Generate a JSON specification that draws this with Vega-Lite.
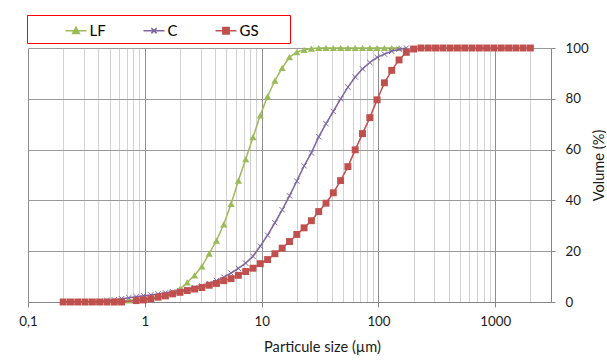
{
  "$schema": "https://vega.github.io/schema/vega-lite/v6.json",
  "autosize": {"type": "none"},
  "padding": {"left": 28, "top": 48, "right": 56, "bottom": 59},
  "width": 523,
  "height": 254,
  "background": "white",
  "datasets": {
    "psd": [
      {"s":"LF","d":0.2,"v":0},{"s":"LF","d":0.231,"v":0},{"s":"LF","d":0.2667,"v":0},{"s":"LF","d":0.308,"v":0},{"s":"LF","d":0.3557,"v":0},{"s":"LF","d":0.4107,"v":0.1},{"s":"LF","d":0.4743,"v":0.2},{"s":"LF","d":0.5477,"v":0.3},{"s":"LF","d":0.6325,"v":0.5},{"s":"LF","d":0.7303,"v":0.6},{"s":"LF","d":0.8434,"v":0.8},{"s":"LF","d":0.9739,"v":1.1},{"s":"LF","d":1.125,"v":1.5},{"s":"LF","d":1.299,"v":2.0},{"s":"LF","d":1.5,"v":2.7},{"s":"LF","d":1.732,"v":3.6},{"s":"LF","d":2,"v":5.2},{"s":"LF","d":2.31,"v":7.7},{"s":"LF","d":2.667,"v":10.5},{"s":"LF","d":3.08,"v":14.0},{"s":"LF","d":3.557,"v":19.0},{"s":"LF","d":4.107,"v":24.2},{"s":"LF","d":4.743,"v":30.6},{"s":"LF","d":5.477,"v":38.6},{"s":"LF","d":6.325,"v":47.8},{"s":"LF","d":7.303,"v":56.2},{"s":"LF","d":8.434,"v":64.9},{"s":"LF","d":9.739,"v":73.5},{"s":"LF","d":11.25,"v":81.0},{"s":"LF","d":12.99,"v":87.2},{"s":"LF","d":15,"v":92.2},{"s":"LF","d":17.32,"v":96.4},{"s":"LF","d":20,"v":98.4},{"s":"LF","d":23.1,"v":99.3},{"s":"LF","d":26.67,"v":99.8},{"s":"LF","d":30.8,"v":100},{"s":"LF","d":35.57,"v":100},{"s":"LF","d":41.07,"v":100},{"s":"LF","d":47.43,"v":100},{"s":"LF","d":54.77,"v":100},{"s":"LF","d":63.25,"v":100},{"s":"LF","d":73.03,"v":100},{"s":"LF","d":84.34,"v":100},{"s":"LF","d":97.39,"v":100},{"s":"LF","d":112.5,"v":100},{"s":"LF","d":129.9,"v":100},{"s":"LF","d":150,"v":100},
      {"s":"C","d":0.2,"v":0},{"s":"C","d":0.231,"v":0},{"s":"C","d":0.2667,"v":0.05},{"s":"C","d":0.308,"v":0.1},{"s":"C","d":0.3557,"v":0.2},{"s":"C","d":0.4107,"v":0.35},{"s":"C","d":0.4743,"v":0.6},{"s":"C","d":0.5477,"v":0.9},{"s":"C","d":0.6325,"v":1.3},{"s":"C","d":0.7303,"v":1.7},{"s":"C","d":0.8434,"v":2.1},{"s":"C","d":0.9739,"v":2.5},{"s":"C","d":1.125,"v":2.8},{"s":"C","d":1.299,"v":3.2},{"s":"C","d":1.5,"v":3.6},{"s":"C","d":1.732,"v":4.0},{"s":"C","d":2,"v":4.4},{"s":"C","d":2.31,"v":5.0},{"s":"C","d":2.667,"v":5.6},{"s":"C","d":3.08,"v":6.4},{"s":"C","d":3.557,"v":7.3},{"s":"C","d":4.107,"v":8.4},{"s":"C","d":4.743,"v":9.8},{"s":"C","d":5.477,"v":11.4},{"s":"C","d":6.325,"v":13.2},{"s":"C","d":7.303,"v":15.3},{"s":"C","d":8.434,"v":18.0},{"s":"C","d":9.739,"v":22.0},{"s":"C","d":11.25,"v":26.3},{"s":"C","d":12.99,"v":31.2},{"s":"C","d":15,"v":36.3},{"s":"C","d":17.32,"v":41.8},{"s":"C","d":20,"v":47.6},{"s":"C","d":23.1,"v":53.6},{"s":"C","d":26.67,"v":58.7},{"s":"C","d":30.8,"v":65.0},{"s":"C","d":35.57,"v":70.2},{"s":"C","d":41.07,"v":75.0},{"s":"C","d":47.43,"v":80.0},{"s":"C","d":54.77,"v":84.6},{"s":"C","d":63.25,"v":88.6},{"s":"C","d":73.03,"v":91.8},{"s":"C","d":84.34,"v":94.3},{"s":"C","d":97.39,"v":96.3},{"s":"C","d":112.5,"v":97.6},{"s":"C","d":129.9,"v":98.7},{"s":"C","d":150,"v":99.5},{"s":"C","d":173.2,"v":100},
      {"s":"GS","d":0.2,"v":0},{"s":"GS","d":0.231,"v":0},{"s":"GS","d":0.2667,"v":0},{"s":"GS","d":0.308,"v":0},{"s":"GS","d":0.3557,"v":0},{"s":"GS","d":0.4107,"v":0},{"s":"GS","d":0.4743,"v":0},{"s":"GS","d":0.5477,"v":0},{"s":"GS","d":0.6325,"v":0},{"s":"GS","d":0.8434,"v":0.55},{"s":"GS","d":0.9739,"v":0.8},{"s":"GS","d":1.125,"v":1.3},{"s":"GS","d":1.299,"v":1.9},{"s":"GS","d":1.5,"v":2.4},{"s":"GS","d":1.732,"v":3.2},{"s":"GS","d":2,"v":3.8},{"s":"GS","d":2.31,"v":4.5},{"s":"GS","d":2.667,"v":5.1},{"s":"GS","d":3.08,"v":5.7},{"s":"GS","d":3.557,"v":6.6},{"s":"GS","d":4.107,"v":7.3},{"s":"GS","d":4.743,"v":8.4},{"s":"GS","d":5.477,"v":9.2},{"s":"GS","d":6.325,"v":10.5},{"s":"GS","d":7.303,"v":12.0},{"s":"GS","d":8.434,"v":13.3},{"s":"GS","d":9.739,"v":15.1},{"s":"GS","d":11.25,"v":16.7},{"s":"GS","d":12.99,"v":19.0},{"s":"GS","d":15,"v":21.2},{"s":"GS","d":17.32,"v":23.8},{"s":"GS","d":20,"v":26.6},{"s":"GS","d":23.1,"v":29.2},{"s":"GS","d":26.67,"v":32.0},{"s":"GS","d":30.8,"v":35.6},{"s":"GS","d":35.57,"v":38.9},{"s":"GS","d":41.07,"v":43.0},{"s":"GS","d":47.43,"v":47.8},{"s":"GS","d":54.77,"v":53.3},{"s":"GS","d":63.25,"v":59.9},{"s":"GS","d":73.03,"v":66.3},{"s":"GS","d":84.34,"v":72.6},{"s":"GS","d":97.39,"v":79.6},{"s":"GS","d":112.5,"v":86.3},{"s":"GS","d":129.9,"v":91.2},{"s":"GS","d":150,"v":95.3},{"s":"GS","d":173.2,"v":98.3},{"s":"GS","d":200,"v":99.6},{"s":"GS","d":231,"v":100},{"s":"GS","d":266.7,"v":100},{"s":"GS","d":308,"v":100},{"s":"GS","d":355.7,"v":100},{"s":"GS","d":410.7,"v":100},{"s":"GS","d":474.3,"v":100},{"s":"GS","d":547.7,"v":100},{"s":"GS","d":632.5,"v":100},{"s":"GS","d":730.3,"v":100},{"s":"GS","d":843.4,"v":100},{"s":"GS","d":973.9,"v":100},{"s":"GS","d":1125,"v":100},{"s":"GS","d":1299,"v":100},{"s":"GS","d":1500,"v":100},{"s":"GS","d":1732,"v":100},{"s":"GS","d":2000,"v":100}
    ]
  },
  "data": {"name": "psd"},
  "encoding": {
    "x": {
      "field": "d", "type": "quantitative",
      "scale": {"type": "log", "domain": [0.1, 3000], "nice": false},
      "axis": {
        "title": "Particule size (µm)",
        "values": [0.1,0.2,0.3,0.4,0.5,0.6,0.7,0.8,0.9,1,2,3,4,5,6,7,8,9,10,20,30,40,50,60,70,80,90,100,200,300,400,500,600,700,800,900,1000,2000,3000],
        "grid": true,
        "gridColor": {"condition": {"test": "indexof([0.1,1,10,100,1000], datum.value) >= 0", "value": "#8E8E8E"}, "value": "#D3D3D3"},
        "tickOpacity": {"condition": {"test": "indexof([0.1,1,10,100,1000], datum.value) >= 0", "value": 1}, "value": 0},
        "tickSize": 5,
        "labelExpr": "datum.value == 0.1 ? '0,1' : (indexof([1,10,100,1000], datum.value) >= 0 ? format(datum.value, 'd') : '')",
        "labelPadding": 7,
        "labelFlush": false,
        "labelOverlap": false,
        "titleFontSize": 14.6,
        "titleX": 294,
        "titleY": 45,
        "titleAlign": "center",
        "titleBaseline": "middle"
      }
    },
    "y": {
      "field": "v", "type": "quantitative",
      "scale": {"domain": [0, 100], "nice": false},
      "axis": {
        "orient": "right",
        "title": "Volume (%)",
        "values": [0, 20, 40, 60, 80, 100],
        "grid": true,
        "gridColor": "#9A9A9A",
        "tickSize": 4,
        "labelPadding": 10,
        "labelFlush": false,
        "titleFontSize": 14.6,
        "titleAngle": 270,
        "titleX": 48,
        "titleY": 117,
        "titleAlign": "center",
        "titleBaseline": "middle"
      }
    }
  },
  "layer": [
    {
      "transform": [{"filter": "datum.s == 'LF'"}],
      "mark": {"type": "line", "color": "#9BBB59", "strokeWidth": 1.5,
        "point": {"shape": "triangle-up", "filled": true, "size": 52, "color": "#9BBB59"}}
    },
    {
      "transform": [{"filter": "datum.s == 'C'"}],
      "mark": {"type": "line", "color": "#8064A2", "strokeWidth": 1.5,
        "point": {"shape": "M-1,-1L1,1M-1,1L1,-1", "filled": false, "size": 28, "strokeWidth": 1, "color": "#8064A2"}}
    },
    {
      "transform": [{"filter": "datum.s == 'GS'"}],
      "mark": {"type": "line", "color": "#C0504D", "strokeWidth": 1.5,
        "point": {"shape": "square", "filled": true, "size": 48, "color": "#C0504D"}}
    },
    {
      "transform": [{"filter": "false"}],
      "mark": {"type": "point", "strokeWidth": 1.5},
      "encoding": {
        "fill": {
          "field": "s", "type": "nominal",
          "scale": {"domain": ["LF", "C", "GS"], "range": ["#9BBB59", "#8064A2", "#C0504D"]},
          "legend": {
            "orient": "none", "legendX": -1, "legendY": -33, "direction": "horizontal",
            "title": "LFLF", "titleOrient": "left", "titleColor": "transparent", "titlePadding": 0.5, "titleFontSize": 15, "titleFont": "Lato", "titleFontWeight": "normal",
            "padding": 4, "strokeColor": "#FF0000", "fillColor": "white",
            "labelFont": "Lato", "labelFontSize": 15, "labelColor": "#000000", "labelOffset": 2, "columnPadding": 34,
            "symbolSize": 441, "symbolStrokeWidth": 1.5, "symbolOpacity": 1,
            "labelExpr": "datum.label == 'GS' ? 'GS\u00a0\u00a0\u00a0\u00a0\u00a0\u00a0\u00a0\u200b' : datum.label"
          }
        },
        "stroke": {
          "field": "s", "type": "nominal",
          "scale": {"domain": ["LF", "C", "GS"], "range": ["#9BBB59", "#8064A2", "#C0504D"]},
          "legend": {
            "orient": "none", "legendX": -1, "legendY": -33, "direction": "horizontal",
            "title": "LFLF", "titleOrient": "left", "titleColor": "transparent", "titlePadding": 0.5, "titleFontSize": 15, "titleFont": "Lato", "titleFontWeight": "normal",
            "padding": 4, "strokeColor": "#FF0000", "fillColor": "white",
            "labelFont": "Lato", "labelFontSize": 15, "labelColor": "#000000", "labelOffset": 2, "columnPadding": 34,
            "symbolSize": 441, "symbolStrokeWidth": 1.5, "symbolOpacity": 1,
            "labelExpr": "datum.label == 'GS' ? 'GS\u00a0\u00a0\u00a0\u00a0\u00a0\u00a0\u00a0\u200b' : datum.label"
          }
        },
        "shape": {
          "field": "s", "type": "nominal",
          "scale": {"domain": ["LF", "C", "GS"], "range": ["M-1,0H1M-0.32,0.27L0,-0.32L0.32,0.27Z", "M-1,0H1M-0.25,-0.25L0.25,0.25M-0.25,0.25L0.25,-0.25", "M-1,0H1M-0.3,-0.3H0.3V0.3H-0.3Z"]},
          "legend": {
            "orient": "none", "legendX": -1, "legendY": -33, "direction": "horizontal",
            "title": "LFLF", "titleOrient": "left", "titleColor": "transparent", "titlePadding": 0.5, "titleFontSize": 15, "titleFont": "Lato", "titleFontWeight": "normal",
            "padding": 4, "strokeColor": "#FF0000", "fillColor": "white",
            "labelFont": "Lato", "labelFontSize": 15, "labelColor": "#000000", "labelOffset": 2, "columnPadding": 34,
            "symbolSize": 441, "symbolStrokeWidth": 1.5, "symbolOpacity": 1,
            "labelExpr": "datum.label == 'GS' ? 'GS\u00a0\u00a0\u00a0\u00a0\u00a0\u00a0\u00a0\u200b' : datum.label"
          }
        }
      }
    }
  ],
  "config": {
    "view": {"stroke": null},
    "font": "Lato",
    "axis": {
      "labelFont": "Lato", "titleFont": "Lato",
      "labelFontSize": 13.3, "titleFontSize": 13.3, "titleFontWeight": "normal",
      "labelColor": "#1A1A1A", "titleColor": "#1A1A1A",
      "domainColor": "#868686", "tickColor": "#868686"
    }
  }
}
